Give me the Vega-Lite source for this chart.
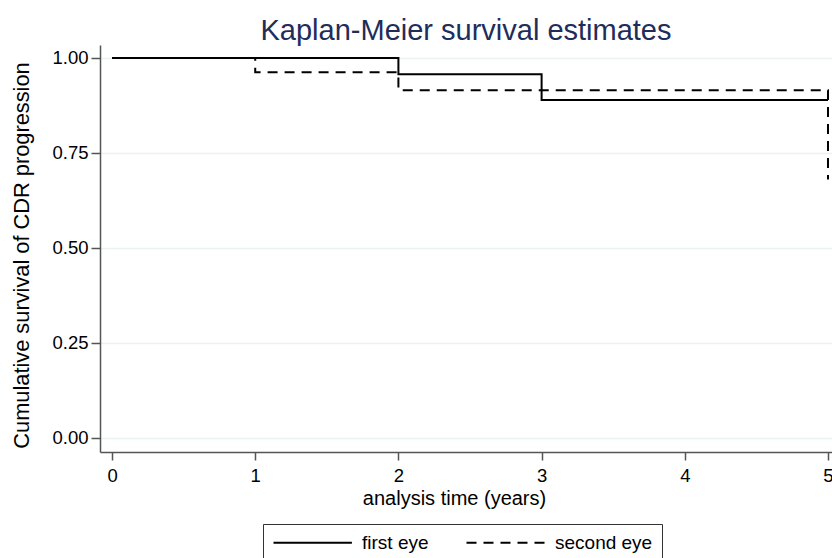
{
  "$schema": "https://vega.github.io/schema/vega-lite/v6.json",
  "width": 732,
  "height": 407,
  "autosize": "none",
  "padding": {"left": 100, "top": 45, "right": 0, "bottom": 106},
  "background": "white",
  "title": {
    "text": "Kaplan-Meier survival estimates",
    "font": "Liberation Sans",
    "fontSize": 29,
    "fontWeight": "normal",
    "color": "#1e2d5a",
    "anchor": "middle",
    "offset": -1
  },
  "data": {
    "values": [
      {"group": "first eye", "t": 0, "s": 1.0},
      {"group": "first eye", "t": 2, "s": 0.957},
      {"group": "first eye", "t": 3, "s": 0.889},
      {"group": "first eye", "t": 5, "s": 0.889},
      {"group": "second eye", "t": 0, "s": 1.0},
      {"group": "second eye", "t": 1, "s": 0.962},
      {"group": "second eye", "t": 2, "s": 0.915},
      {"group": "second eye", "t": 5, "s": 0.68}
    ]
  },
  "mark": {"type": "line", "interpolate": "step-after", "color": "black", "strokeWidth": 2, "clip": false},
  "encoding": {
    "x": {
      "field": "t", "type": "quantitative",
      "scale": {"domain": [-0.084, 5.028], "nice": false, "zero": false},
      "axis": {
        "title": "analysis time (years)",
        "values": [0, 1, 2, 3, 4, 5],
        "format": "d",
        "grid": false,
        "tickSize": 8,
        "labelPadding": 6,
        "titlePadding": 4,
        "titleX": 354,
        "labelFontSize": 18.5,
        "titleFontSize": 20,
        "labelFont": "Liberation Sans",
        "titleFont": "Liberation Sans",
        "titleFontWeight": "normal",
        "labelColor": "black",
        "titleColor": "black",
        "domainColor": "#555555",
        "tickColor": "#555555",
        "domainWidth": 1.5,
        "tickWidth": 1.5,
        "labelFlush": false,
        "labelOverlap": false
      }
    },
    "y": {
      "field": "s", "type": "quantitative",
      "scale": {"domain": [-0.037, 1.034], "nice": false, "zero": false},
      "axis": {
        "title": "Cumulative survival of CDR progression",
        "values": [0, 0.25, 0.5, 0.75, 1],
        "format": ".2f",
        "grid": true,
        "gridColor": "#eaf2f3",
        "gridWidth": 1.5,
        "tickSize": 9,
        "labelPadding": 3,
        "titlePadding": 18,
        "titleY": 210,
        "labelFontSize": 18.5,
        "titleFontSize": 21.8,
        "labelFont": "Liberation Sans",
        "titleFont": "Liberation Sans",
        "titleFontWeight": "normal",
        "labelColor": "black",
        "titleColor": "black",
        "domainColor": "#555555",
        "tickColor": "#555555",
        "domainWidth": 1.5,
        "tickWidth": 1.5,
        "labelFlush": false,
        "labelOverlap": false
      }
    },
    "strokeDash": {
      "field": "group", "type": "nominal",
      "scale": {"domain": ["first eye", "second eye"], "range": [[1, 0], [10, 7]]},
      "legend": {
        "title": null,
        "orient": "none",
        "legendX": 163,
        "legendY": 479,
        "direction": "horizontal",
        "columns": 2,
        "symbolType": "M-1,0H8.8",
        "symbolSize": 256,
        "symbolStrokeColor": "black",
        "symbolStrokeWidth": 2,
        "labelOffset": 71,
        "columnPadding": 33,
        "labelFontSize": 19,
        "labelFont": "Liberation Sans",
        "labelColor": "black",
        "labelExpr": "datum.value == 'second eye' ? 'second eye\u2007\u2007\u2007' : datum.label",
        "strokeColor": "#333333",
        "padding": 9
      }
    }
  },
  "config": {"view": {"stroke": null}}
}
